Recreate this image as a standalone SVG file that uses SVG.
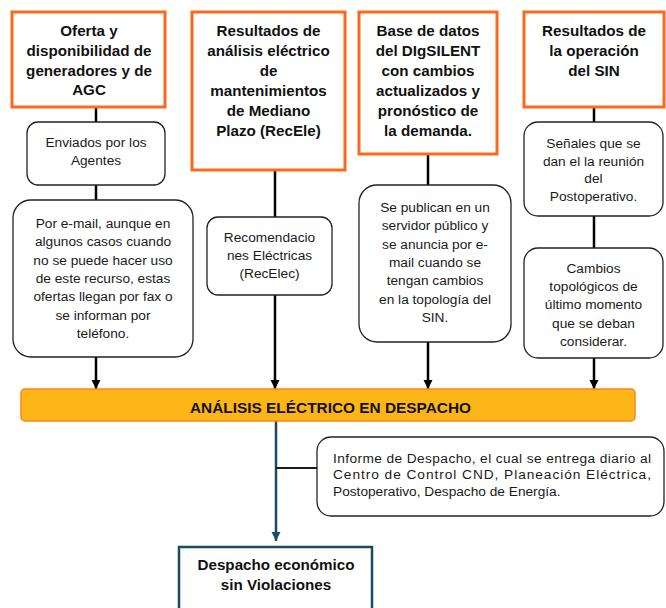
<svg xmlns="http://www.w3.org/2000/svg" width="666" height="608" viewBox="0 0 666 608">
  <style>
    .src { fill: #ffffff; stroke: #fa6a1c; stroke-width: 3; }
    .note { fill: #ffffff; stroke: #222222; stroke-width: 1.3; }
    .ttl { font-family: "Liberation Sans", Arial, sans-serif; font-weight: bold; font-size: 15.2px; fill: #111111; text-anchor: middle; }
    .txt { font-family: "Liberation Sans", Arial, sans-serif; font-size: 13.7px; fill: #1a1a1a; text-anchor: middle; }
    .lnk { stroke: #000000; stroke-width: 2.5; fill: none; }
    .tl { stroke: #1b4a63; stroke-width: 2.5; fill: none; }
  </style>
  <defs>
    <marker id="ah" viewBox="0 0 10 10" refX="10" refY="5" markerWidth="9" markerHeight="11" markerUnits="userSpaceOnUse" orient="auto">
      <path d="M0,0 L10,5 L0,10 z" fill="#000000"/>
    </marker>
    <marker id="ahT" viewBox="0 0 10 10" refX="10" refY="5" markerWidth="9" markerHeight="11" markerUnits="userSpaceOnUse" orient="auto">
      <path d="M0,0 L10,5 L0,10 z" fill="#1b4a63"/>
    </marker>
  </defs>
  <rect width="666" height="608" fill="#ffffff"/>

  <!-- connectors -->
  <g id="connectors">
    <line class="lnk" x1="96" y1="107" x2="96" y2="122"/>
    <line class="lnk" x1="96" y1="185" x2="96" y2="200"/>
    <line class="lnk" x1="96" y1="357" x2="96" y2="389" marker-end="url(#ah)"/>
    <line class="lnk" x1="275" y1="170" x2="275" y2="217"/>
    <line class="lnk" x1="275" y1="295" x2="275" y2="389" marker-end="url(#ah)"/>
    <line class="lnk" x1="428" y1="154" x2="428" y2="185"/>
    <line class="lnk" x1="428" y1="342" x2="428" y2="389" marker-end="url(#ah)"/>
    <line class="lnk" x1="594" y1="107" x2="594" y2="122"/>
    <line class="lnk" x1="594" y1="216" x2="594" y2="248"/>
    <line class="lnk" x1="594" y1="358" x2="594" y2="389" marker-end="url(#ah)"/>
    <line class="tl" x1="276" y1="421" x2="276" y2="541" marker-end="url(#ahT)"/>
    <line stroke="#1a1a1a" stroke-width="2.2" x1="276" y1="468" x2="317" y2="468"/>
  </g>

  <!-- column 1 -->
  <g id="oferta">
    <rect class="src" x="12" y="12" width="153" height="95"/>
    <text class="ttl" x="89" y="36">Oferta y</text>
    <text class="ttl" x="89" y="56">disponibilidad de</text>
    <text class="ttl" x="89" y="76">generadores y de</text>
    <text class="ttl" x="89" y="95">AGC</text>
  </g>
  <g id="enviados">
    <rect class="note" x="27" y="122" width="138" height="63" rx="11"/>
    <text class="txt" x="96" y="147">Enviados por los</text>
    <text class="txt" x="96" y="165">Agentes</text>
  </g>
  <g id="email">
    <rect class="note" x="13" y="200" width="180" height="157" rx="18"/>
    <text class="txt" x="103" y="228">Por e-mail, aunque en</text>
    <text class="txt" x="103" y="246.3">algunos casos cuando</text>
    <text class="txt" x="103" y="264.6">no se puede hacer uso</text>
    <text class="txt" x="103" y="283">de este recurso, estas</text>
    <text class="txt" x="103" y="301.3">ofertas llegan por fax o</text>
    <text class="txt" x="103" y="319.6">se informan por</text>
    <text class="txt" x="103" y="338">teléfono.</text>
  </g>

  <!-- column 2 -->
  <g id="recele">
    <rect class="src" x="192" y="12" width="153" height="158"/>
    <text class="ttl" x="268.5" y="36">Resultados de</text>
    <text class="ttl" x="268.5" y="56">análisis eléctrico</text>
    <text class="ttl" x="268.5" y="76">de</text>
    <text class="ttl" x="268.5" y="96">mantenimientos</text>
    <text class="ttl" x="268.5" y="116">de Mediano</text>
    <text class="ttl" x="268.5" y="136">Plazo (RecEle)</text>
  </g>
  <g id="recelec">
    <rect class="note" x="207" y="217" width="125" height="78" rx="11"/>
    <text class="txt" x="269.5" y="242">Recomendacio</text>
    <text class="txt" x="269.5" y="260">nes Eléctricas</text>
    <text class="txt" x="269.5" y="278">(RecElec)</text>
  </g>

  <!-- column 3 -->
  <g id="digsilent">
    <rect class="src" x="359" y="12" width="138" height="142"/>
    <text class="ttl" x="428" y="36">Base de datos</text>
    <text class="ttl" x="428" y="56">del DIgSILENT</text>
    <text class="ttl" x="428" y="76">con cambios</text>
    <text class="ttl" x="428" y="96">actualizados y</text>
    <text class="ttl" x="428" y="116">pronóstico de</text>
    <text class="ttl" x="428" y="136">la demanda.</text>
  </g>
  <g id="servidor">
    <rect class="note" x="359" y="185" width="152" height="157" rx="18"/>
    <text class="txt" x="435" y="212">Se publican en un</text>
    <text class="txt" x="435" y="230.3">servidor público y</text>
    <text class="txt" x="435" y="248.6">se anuncia por e-</text>
    <text class="txt" x="435" y="267">mail cuando se</text>
    <text class="txt" x="435" y="285.3">tengan cambios</text>
    <text class="txt" x="435" y="303.6">en la topología del</text>
    <text class="txt" x="435" y="322">SIN.</text>
  </g>

  <!-- column 4 -->
  <g id="operacion">
    <rect class="src" x="524" y="12" width="140" height="95"/>
    <text class="ttl" x="594" y="36">Resultados de</text>
    <text class="ttl" x="594" y="56">la operación</text>
    <text class="ttl" x="594" y="76">del SIN</text>
  </g>
  <g id="senales">
    <rect class="note" x="524" y="122" width="139" height="94" rx="14"/>
    <text class="txt" x="593.5" y="148">Señales que se</text>
    <text class="txt" x="593.5" y="165.7">dan el la reunión</text>
    <text class="txt" x="593.5" y="183.4">del</text>
    <text class="txt" x="593.5" y="201">Postoperativo.</text>
  </g>
  <g id="cambios">
    <rect class="note" x="524" y="248" width="139" height="110" rx="14"/>
    <text class="txt" x="593.5" y="273">Cambios</text>
    <text class="txt" x="593.5" y="291.2">topológicos de</text>
    <text class="txt" x="593.5" y="309.4">último momento</text>
    <text class="txt" x="593.5" y="327.6">que se deban</text>
    <text class="txt" x="593.5" y="345.8">considerar.</text>
  </g>

  <!-- central process bar -->
  <g id="analisis">
    <rect x="21" y="389" width="614" height="32" rx="4" fill="#fdb517" stroke="#f7851f" stroke-width="1.5"/>
    <text class="ttl" x="330.5" y="412.5" textLength="281" lengthAdjust="spacingAndGlyphs">ANÁLISIS ELÉCTRICO EN DESPACHO</text>
  </g>

  <g id="informe">
    <rect class="note" x="317" y="437" width="347" height="79" rx="14"/>
    <text class="txt" style="text-anchor:start" x="333" y="462.7" textLength="318" lengthAdjust="spacing">Informe de Despacho, el cual se entrega diario al</text>
    <text class="txt" style="text-anchor:start" x="333" y="479.4" textLength="318" lengthAdjust="spacing">Centro de Control CND, Planeación Eléctrica,</text>
    <text class="txt" style="text-anchor:start" x="333" y="496.1">Postoperativo, Despacho de Energía.</text>
  </g>

  <g id="despacho">
    <rect x="179" y="547" width="193" height="75" fill="#ffffff" stroke="#1b4a63" stroke-width="2.5"/>
    <text class="ttl" x="276" y="569.5">Despacho económico</text>
    <text class="ttl" x="276" y="590">sin Violaciones</text>
  </g>
</svg>
